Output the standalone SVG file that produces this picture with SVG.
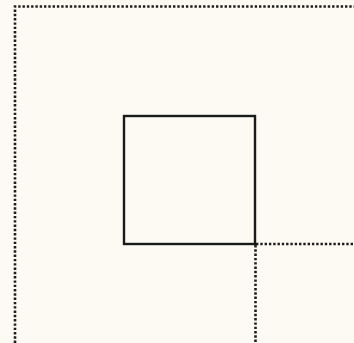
<svg xmlns="http://www.w3.org/2000/svg" width="354" height="343" viewBox="0 0 354 343">
<style>
.dot{fill:none;stroke:#1e1e1e;stroke-width:2.6;stroke-dasharray:2.4 1.9}
.box{fill:none;stroke:#1a1a1a;stroke-width:2.4}
</style>
<rect width="354" height="343" fill="#fcfaf3"/>
<g id="connectors">
<path class="dot" d="M15,343 V6.5 H354"/>
<path class="dot" d="M256,244 H354"/>
<path class="dot" d="M255.5,245 V343"/>
</g>
<g id="node-square">
<rect class="box" x="124" y="116" width="131" height="128"/>
</g>
</svg>
